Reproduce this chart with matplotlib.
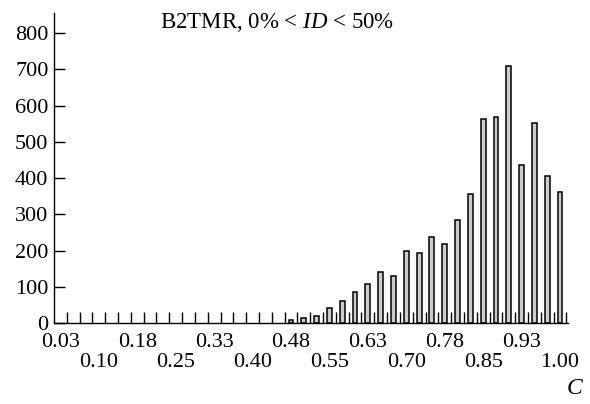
import numpy as np
import matplotlib
matplotlib.use("Agg")
import matplotlib.pyplot as plt

plt.rcParams['font.family'] = ['Liberation Serif', 'DejaVu Serif']
plt.rcParams['mathtext.fontset'] = 'custom'
plt.rcParams['mathtext.rm'] = 'Liberation Serif'
plt.rcParams['mathtext.it'] = 'Liberation Serif:italic'

# bins of width 0.025 on [0, 1]; counts (empty bins below 0.45)
bin_width = 0.025
bin_edges = np.arange(0, 1.0 + bin_width / 2, bin_width)
counts = [0] * 18 + [9, 14, 21, 41, 62, 86, 109, 142, 130, 198, 195, 238,
                     218, 284, 356, 562, 569, 709, 435, 553, 405, 361]
y_ticks = list(range(0, 801, 100))
label_every = 3

centers = bin_edges[:-1] + bin_width / 2
counts = np.array(counts)

fig = plt.figure(figsize=(5.9, 4.04), dpi=100)
ax = fig.add_axes([0.0915, 0.1998, 0.8712, 0.768])

mask = counts > 0
ax.bar(centers[mask], counts[mask], width=0.0095, color='#cccccc',
       edgecolor='black', linewidth=1.1)

ax.set_xlim(0, 1.003)
ax.set_ylim(0, 855)

# ticks at the bin edges, labels under the bin centres in two alternating rows
ax.set_xticks(bin_edges[1:])
ax.set_xticklabels([])
idx = np.arange(0, len(centers), label_every)
labels = []
for n, i in enumerate(idx):
    txt = f"{round(bin_edges[i + 1] + 1e-9, 2):.2f}"
    labels.append(txt if n % 2 == 0 else "\n" + txt)
ax.set_xticks(centers[idx], minor=True)
ax.set_xticklabels(labels, minor=True, fontsize=16, linespacing=1.1)
ax.tick_params(axis='x', which='major', direction='in', length=8, width=1.0)
ax.tick_params(axis='x', which='minor', length=0, pad=7)

ax.set_yticks(y_ticks)
ax.tick_params(axis='y', direction='in', length=8, width=1.0, pad=4,
               labelsize=16)

for s in ['top', 'right']:
    ax.spines[s].set_visible(False)
for s in ['left', 'bottom']:
    ax.spines[s].set_linewidth(1.0)

fig.text(277 / 590, 1 - 28 / 404, r'B2TMR, 0% < $\mathit{ID}$ < 50%',
         ha='center', va='baseline', fontsize=16.5)
fig.text(575 / 590, 1 - 389 / 404, 'C', style='italic', ha='center',
         va='center', fontsize=17)

fig.savefig('out.png', dpi=100)
